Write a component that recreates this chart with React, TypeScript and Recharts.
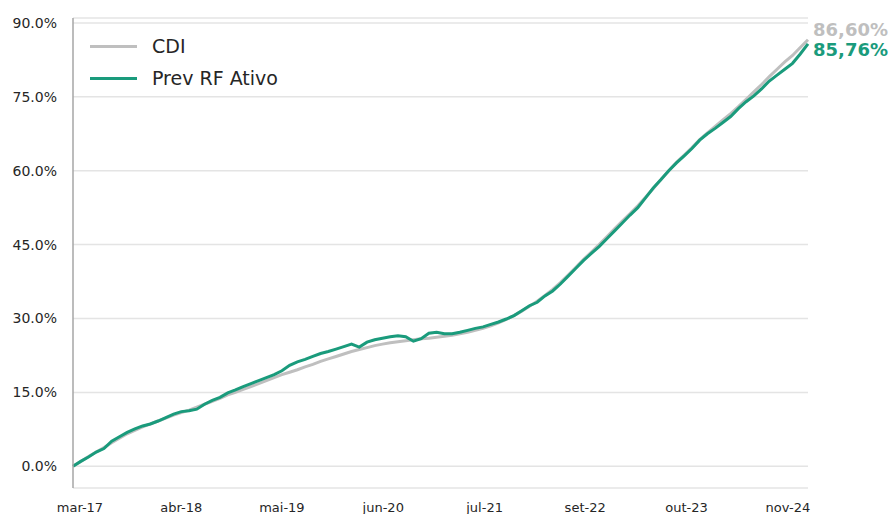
import { CartesianGrid, LabelList, Legend, Line, LineChart, XAxis, YAxis } from 'recharts';

// accumulated return (%) by month, from jan-17
const cdi = [
  0, 1.0, 2.0, 2.9, 3.8, 4.8, 5.7, 6.6, 7.3, 8.0, 8.6, 9.2, 9.8, 10.4, 10.9, 11.4,
  12.0, 12.6, 13.2, 13.8, 14.5, 15.0, 15.6, 16.2, 16.8, 17.4, 18.0, 18.6, 19.1, 19.6,
  20.2, 20.7, 21.3, 21.8, 22.3, 22.8, 23.3, 23.7, 24.1, 24.5, 24.8, 25.1, 25.3, 25.5,
  25.7, 25.9, 26.0, 26.2, 26.4, 26.6, 26.9, 27.2, 27.6, 28.0, 28.5, 29.1, 29.8, 30.6,
  31.5, 32.5, 33.5, 34.7, 35.9, 37.3, 38.8, 40.4, 42.0, 43.5, 45.0, 46.6, 48.2, 49.8,
  51.3, 52.9, 54.6, 56.4, 58.2, 60.0, 61.7, 63.2, 64.7, 66.3, 67.7, 69.0, 70.3, 71.6,
  73.0, 74.5, 76.0, 77.5, 79.1, 80.6, 82.1, 83.4, 85.0, 86.6,
];

const prevRf = [
  0, 1.0, 1.9, 2.9, 3.6, 5.1, 6.0, 6.9, 7.6, 8.2, 8.6, 9.2, 9.9, 10.6, 11.1, 11.3,
  11.6, 12.6, 13.4, 14.0, 14.9, 15.5, 16.2, 16.8, 17.4, 18.0, 18.6, 19.4, 20.5, 21.2,
  21.7, 22.3, 22.9, 23.3, 23.8, 24.3, 24.8, 24.2, 25.2, 25.7, 26.0, 26.3, 26.5, 26.3,
  25.4, 25.9, 27.0, 27.2, 26.9, 26.9, 27.2, 27.6, 28.0, 28.3, 28.8, 29.3, 29.9, 30.6,
  31.6, 32.6, 33.3, 34.6, 35.6, 37.0, 38.6, 40.2, 41.8, 43.2, 44.6, 46.2, 47.8, 49.4,
  51.0, 52.5, 54.5, 56.5, 58.2, 60.0, 61.6, 63.0, 64.5, 66.2, 67.5, 68.6, 69.8, 71.0,
  72.6, 74.0, 75.2, 76.6, 78.2, 79.4, 80.6, 81.8, 83.7, 85.76,
];

const xTickPos = [0.9, 14.0, 27.0, 40.1, 53.2, 66.2, 79.3, 92.4];
const xTickLabels = ['mar-17', 'abr-18', 'mai-19', 'jun-20', 'jul-21', 'set-22', 'out-23', 'nov-24'];
const yTicks = [0, 15, 30, 45, 60, 75, 90];

const cdiFinal = '86,60%';
const prevFinal = '85,76%';

const GREY = '#bfbfbf';
const GREEN = '#1a9b7c';
const FONT = '"DejaVu Sans", Verdana, sans-serif';

const data = cdi.map((v, i) => ({ m: i, cdi: v, prev: prevRf[i] }));
const last = data.length - 1;

const legendItems = [
  { name: 'CDI', color: GREY },
  { name: 'Prev RF Ativo', color: GREEN },
];

const LegendBox = () => (
  <div style={{ fontFamily: FONT, fontSize: 19, color: '#262626' }}>
    {legendItems.map((it) => (
      <div key={it.name} style={{ display: 'flex', alignItems: 'center', height: 32 }}>
        <span style={{ display: 'inline-block', width: 47, height: 3, background: it.color, marginRight: 15 }} />
        {it.name}
      </div>
    ))}
  </div>
);

const endLabel = (text: string, color: string, dy: number) => (props: any) => {
  if (props.index !== last) return null;
  return (
    <text
      x={props.x + 5}
      y={props.y + dy}
      fill={color}
      fontFamily={FONT}
      fontSize={18}
      fontWeight="bold"
      dominantBaseline="central"
    >
      {text}
    </text>
  );
};

const App = () => (
  <div style={{ position: 'absolute', left: 0, top: 0 }}>
    <LineChart
      width={894}
      height={514}
      data={data}
      margin={{ top: 18, right: 86, bottom: 0, left: 0 }}
    >
      <CartesianGrid vertical={false} stroke="#e4e4e4" strokeWidth={1.5} />
      <XAxis
        dataKey="m"
        type="number"
        domain={[0, last]}
        ticks={xTickPos}
        tickFormatter={(_v: number, i: number) => xTickLabels[i]}
        axisLine={false}
        tickLine={false}
        tickSize={0}
        tickMargin={15}
        height={26}
        tick={{ fontFamily: FONT, fontSize: 13, fill: '#262626' }}
        interval={0}
      />
      <YAxis
        type="number"
        domain={[-4.4, 91]}
        ticks={yTicks}
        tickFormatter={(v: number) => `${v.toFixed(1)}%`}
        width={73}
        axisLine={{ stroke: '#a6a6a6', strokeWidth: 1.5 }}
        tickLine={false}
        tickSize={0}
        tickMargin={16}
        tick={{ fontFamily: FONT, fontSize: 14, fill: '#262626' }}
        interval={0}
      />
      <Legend
        content={<LegendBox />}
        layout="vertical"
        align="center"
        verticalAlign="middle"
        wrapperStyle={{ top: 30, left: 90, width: 'auto' }}
      />
      <Line
        dataKey="cdi"
        name="CDI"
        stroke={GREY}
        strokeWidth={3}
        dot={false}
        isAnimationActive={false}
      >
        <LabelList content={endLabel(cdiFinal, GREY, -10)} />
      </Line>
      <Line
        dataKey="prev"
        name="Prev RF Ativo"
        stroke={GREEN}
        strokeWidth={3}
        dot={false}
        isAnimationActive={false}
      >
        <LabelList content={endLabel(prevFinal, GREEN, 6)} />
      </Line>
    </LineChart>
  </div>
);

export default App;
